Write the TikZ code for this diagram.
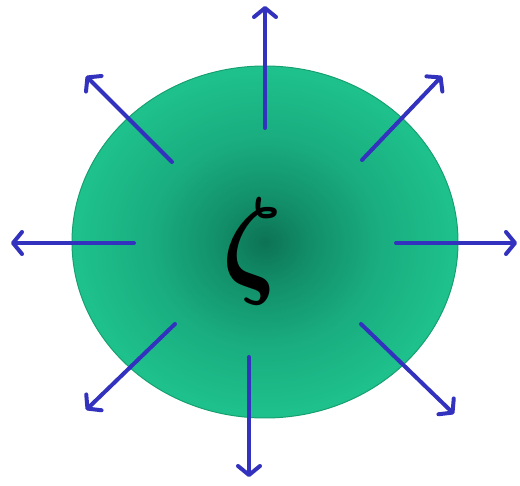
\documentclass[tikz,border=0pt]{standalone}
\usepackage{amsmath,bm}
\usetikzlibrary{arrows.meta}
\definecolor{arrowblue}{RGB}{50,50,190}
\definecolor{edgegreen}{RGB}{22,160,112}
\pgfdeclareradialshading{greenball}{\pgfpoint{0bp}{0bp}}{%
  rgb(0bp)=(0.05,0.45,0.33);
  rgb(6bp)=(0.07,0.56,0.41);
  rgb(15bp)=(0.10,0.68,0.50);
  rgb(25bp)=(0.12,0.76,0.55);
  rgb(50bp)=(0.12,0.76,0.55)}
\tikzset{
  ray/.style={draw=arrowblue, line width=4pt, line cap=round,
    -{Straight Barb[length=9pt,width=22pt,line cap=round,line join=round]}},
}
\begin{document}
\begin{tikzpicture}[x=1pt,y=-1pt]
\useasboundingbox (0,0) rectangle (520,486);
\path[shading=greenball, draw=edgegreen, line width=1pt] (265,242) ellipse [x radius=193, y radius=176];
\node (z) at (252,252) {\scalebox{10.5}[12]{$\bm{\zeta}$}};
% ray start/end coordinates
\coordinate (s1) at (265,128); \coordinate (e1) at (265,6);
\coordinate (s2) at (362,160); \coordinate (e2) at (442,76);
\coordinate (s3) at (396,243); \coordinate (e3) at (517,243);
\coordinate (s4) at (361,324); \coordinate (e4) at (454,414);
\coordinate (s5) at (249,357); \coordinate (e5) at (249,477);
\coordinate (s6) at (175,324); \coordinate (e6) at (86,410);
\coordinate (s7) at (134,243); \coordinate (e7) at (11,243);
\coordinate (s8) at (172,162); \coordinate (e8) at (86,76);
\foreach \i in {1,...,8} { \draw[ray] (s\i) -- (e\i); }
\end{tikzpicture}
\end{document}
